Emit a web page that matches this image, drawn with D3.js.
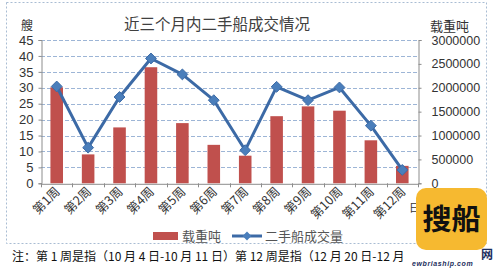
<!DOCTYPE html>
<html>
<head>
<meta charset="utf-8">
<script src="https://cdn.jsdelivr.net/npm/d3@7"></script>
<style>
  body { margin: 0; background: #fff; }
  svg { display: block; font-family: "Noto Sans CJK SC", "Liberation Sans", sans-serif; }
</style>
</head>
<body>
<div id="svgWrapper"></div>
<script>
// data
var weeks = ["第1周", "第2周", "第3周", "第4周", "第5周", "第6周", "第7周", "第8周", "第9周", "第10周", "第11周", "第12周"];
var tonnage = [2010000, 605000, 1170000, 2430000, 1260000, 805000, 578000, 1405000, 1610000, 1520000, 900000, 365000]; // 载重吨 (bars, right axis)
var shipCount = [30.4, 11.2, 27.1, 39.2, 34.2, 26.1, 10.4, 30.3, 26.1, 30.1, 18.1, 4.2]; // 二手船成交量 (line, left axis)
var leftTicks = [0, 5, 10, 15, 20, 25, 30, 35, 40, 45];
var rightTicks = [0, 500000, 1000000, 1500000, 2000000, 2500000, 3000000];

var fullWidth = 495, fullHeight = 268;
var xLeft = 41, xRight = 418, yTop = 40, yBottom = 183.3;

var svg = d3.select("#svgWrapper")
  .append("svg")
  .attr("width", fullWidth)
  .attr("height", fullHeight);

// chart area border (dashed)
svg.append("rect")
  .attr("x", 6.5).attr("y", 2.5)
  .attr("width", 480).attr("height", 241)
  .attr("fill", "none")
  .attr("stroke", "#a9bcd3")
  .attr("stroke-dasharray", "2,2");

var xScale = d3.scaleBand().domain(weeks).range([xLeft, xRight]).paddingInner(0).paddingOuter(0);
var yLeft = d3.scaleLinear().domain([0, 45]).range([yBottom, yTop]);
var yRight = d3.scaleLinear().domain([0, 3000000]).range([yBottom, yTop]);

// gridlines
svg.append("g")
  .selectAll("line")
  .data(leftTicks.slice(1))
  .enter().append("line")
  .attr("x1", xLeft).attr("x2", xRight)
  .attr("y1", function(d) { return Math.round(yLeft(d)) + 0.5; })
  .attr("y2", function(d) { return Math.round(yLeft(d)) + 0.5; })
  .attr("stroke", "#9db5d6")
  .attr("stroke-dasharray", "4,2");

// left axis
var axL = svg.append("g")
  .attr("transform", "translate(" + (xLeft + 0.5) + ",0)")
  .call(d3.axisLeft(yLeft).tickValues(leftTicks).tickSize(3).tickPadding(5));
axL.select(".domain").attr("stroke", "#8c8c8c");
axL.selectAll(".tick line").attr("stroke", "#8c8c8c");
axL.selectAll("text").style("font-family", "Liberation Sans").style("font-size", "13px").attr("fill", "#333");

// right axis
var axR = svg.append("g")
  .attr("transform", "translate(" + (xRight + 0.5) + ",0)")
  .call(d3.axisRight(yRight).tickValues(rightTicks).tickSize(3).tickPadding(10).tickFormat(d3.format("d")));
axR.select(".domain").attr("stroke", "#8c8c8c");
axR.selectAll(".tick line").attr("stroke", "#8c8c8c");
axR.selectAll("text").style("font-family", "Liberation Sans").style("font-size", "12.5px").attr("fill", "#333");

// bars
svg.append("g")
  .selectAll("rect")
  .data(tonnage)
  .enter().append("rect")
  .attr("x", function(d, i) { return xScale(weeks[i]) + xScale.bandwidth() * 0.3; })
  .attr("width", xScale.bandwidth() * 0.4)
  .attr("y", function(d) { return yRight(d); })
  .attr("height", function(d) { return yBottom - yRight(d); })
  .attr("fill", "#c0504d");

// bottom axis
var axB = svg.append("g")
  .attr("transform", "translate(0," + (yBottom + 0.5) + ")")
  .call(d3.axisBottom(xScale).tickSize(0).tickFormat(""));
axB.select(".domain").attr("stroke", "#8c8c8c");
svg.append("g")
  .selectAll("line")
  .data(weeks.concat(["end"]))
  .enter().append("line")
  .attr("x1", function(d, i) { return Math.round(xLeft + i * xScale.bandwidth()) + 0.5; })
  .attr("x2", function(d, i) { return Math.round(xLeft + i * xScale.bandwidth()) + 0.5; })
  .attr("y1", yBottom).attr("y2", yBottom + 4)
  .attr("stroke", "#8c8c8c");

// x labels rotated
svg.append("g")
  .selectAll("text")
  .data(weeks)
  .enter().append("text")
  .attr("transform", function(d) {
    return "translate(" + (xScale(d) + xScale.bandwidth() / 2 + 4) + "," + (yBottom + 9) + ") rotate(-45)";
  })
  .style("text-anchor", "end")
  .style("font-size", "12.5px")
  .attr("fill", "#333")
  .text(function(d) { return d; });

// line
var line = d3.line()
  .x(function(d, i) { return xScale(weeks[i]) + xScale.bandwidth() / 2; })
  .y(function(d) { return yLeft(d); });

svg.append("path")
  .datum(shipCount)
  .attr("d", line)
  .attr("fill", "none")
  .attr("stroke", "#3c6aa6")
  .attr("stroke-width", 3)
  .attr("stroke-linejoin", "round");

svg.append("g")
  .selectAll("path")
  .data(shipCount)
  .enter().append("path")
  .attr("d", d3.symbol().type(d3.symbolDiamond2).size(75))
  .attr("transform", function(d, i) {
    return "translate(" + (xScale(weeks[i]) + xScale.bandwidth() / 2) + "," + yLeft(d) + ")";
  })
  .attr("fill", "#4a7ebb")
  .attr("stroke", "#3c6aa6")
  .attr("stroke-width", 1);

// titles
svg.append("text")
  .attr("x", 217).attr("y", 30)
  .style("text-anchor", "middle")
  .style("font-size", "15.5px")
  .attr("fill", "#404040")
  .text("近三个月内二手船成交情况");

svg.append("text")
  .attr("x", 27).attr("y", 30)
  .style("text-anchor", "middle")
  .style("font-size", "12px")
  .attr("fill", "#333")
  .text("艘");

svg.append("text")
  .attr("x", 430).attr("y", 31)
  .style("font-size", "13px")
  .attr("fill", "#333")
  .text("载重吨");

svg.append("text")
  .attr("x", 409).attr("y", 212)
  .style("font-size", "11px")
  .attr("fill", "#333")
  .text("日");

// legend
svg.append("rect")
  .attr("x", 153).attr("y", 232)
  .attr("width", 25).attr("height", 8)
  .attr("fill", "#c0504d");
svg.append("text")
  .attr("x", 182).attr("y", 241)
  .style("font-size", "13px")
  .attr("fill", "#555")
  .text("载重吨");
svg.append("line")
  .attr("x1", 232).attr("x2", 262)
  .attr("y1", 236).attr("y2", 236)
  .attr("stroke", "#3c6aa6")
  .attr("stroke-width", 3);
svg.append("path")
  .attr("d", d3.symbol().type(d3.symbolDiamond2).size(50))
  .attr("transform", "translate(247,236)")
  .attr("fill", "#4a7ebb");
svg.append("text")
  .attr("x", 265).attr("y", 241)
  .style("font-size", "13px")
  .attr("fill", "#555")
  .text("二手船成交量");

// footnote (the rest is hidden under the watermark in the reference)
svg.append("text")
  .attr("x", 12).attr("y", 261)
  .style("font-size", "12px")
  .attr("fill", "#111")
  .text("注：第 1 周是指（10 月 4 日-10 月 11 日）第 12 周是指（12 月 20 日-12 月");

// watermark logo
var logo = svg.append("g");
logo.append("rect")
  .attr("x", 416).attr("y", 188)
  .attr("width", 71).attr("height", 62)
  .attr("rx", 10)
  .attr("fill", "#f6b930");
logo.append("text")
  .attr("x", 451.5).attr("y", 230)
  .style("text-anchor", "middle")
  .style("font-size", "29px")
  .style("font-weight", "bold")
  .attr("fill", "#111")
  .text("搜船");
logo.append("text")
  .attr("x", 481).attr("y", 259)
  .style("font-size", "12px")
  .style("font-weight", "bold")
  .attr("fill", "#1b2d5c")
  .text("网");
logo.append("text")
  .attr("x", 412).attr("y", 266)
  .style("font-family", "Liberation Sans")
  .style("font-size", "7px")
  .style("font-style", "italic")
  .style("font-weight", "bold")
  .style("letter-spacing", "0.6px")
  .attr("fill", "#1b2d5c")
  .text("ewbriaship.com");
</script>
</body>
</html>
